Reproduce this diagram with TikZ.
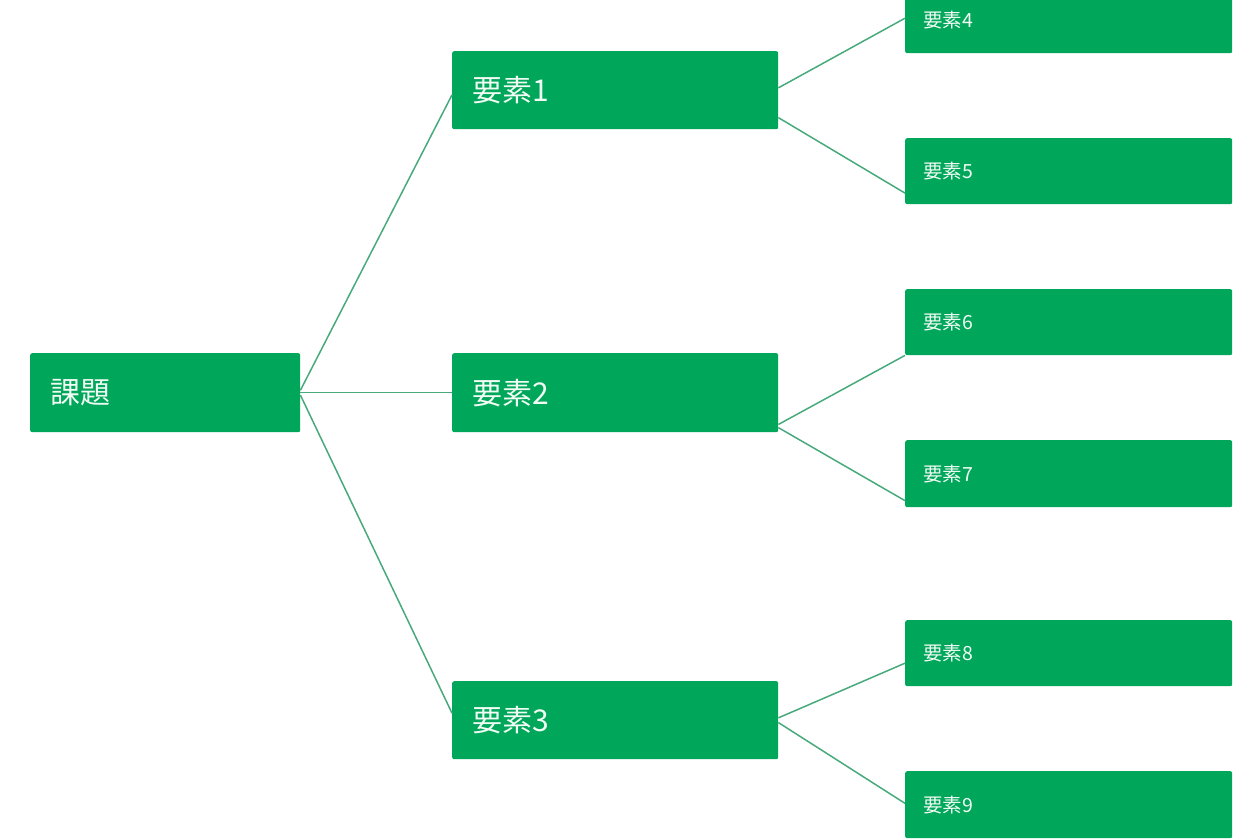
\documentclass[tikz,border=0pt]{standalone}
\usepackage{fontspec}
\setmainfont{Noto Sans CJK JP}
\usetikzlibrary{calc}
\definecolor{boxgreen}{RGB}{0,166,90}
\definecolor{linkgreen}{RGB}{72,170,124}
\definecolor{txt}{RGB}{240,252,244}
\tikzset{
  x=1pt, y=-1pt,
  bigbox/.style={anchor=north west, fill=boxgreen, rounded corners=2pt, draw=none,
    inner xsep=20pt, inner ysep=0pt, align=left, text=txt,
    font=\fontsize{30}{34}\selectfont},
  smallbox/.style={anchor=north west, fill=boxgreen, rounded corners=2pt, draw=none,
    inner xsep=18pt, inner ysep=0pt, align=left, text=txt,
    minimum width=327pt, text width=291pt,
    font=\fontsize{19.5}{22}\selectfont},
  link/.style={draw=linkgreen, line width=1.5pt},
}
\begin{document}
\begin{tikzpicture}
\useasboundingbox (0,0) rectangle (1260,840);
\clip (0,0) rectangle (1260,840);
\fill[white] (0,0) rectangle (1260,840);

\node[bigbox, minimum width=270pt, text width=230pt, minimum height=79pt] (k) at (30,353) {課題};
\node[bigbox, minimum width=326pt, text width=286pt, minimum height=78pt] (e1) at (452,51) {要素1};
\node[bigbox, minimum width=326pt, text width=286pt, minimum height=79pt] (e2) at (452,353) {要素2};
\node[bigbox, minimum width=326pt, text width=286pt, minimum height=78pt] (e3) at (452,681) {要素3};

\node[smallbox, minimum height=66pt] (e4) at (905,-13) {要素4};
\node[smallbox, minimum height=66pt] (e5) at (905,138) {要素5};
\node[smallbox, minimum height=66pt] (e6) at (905,289) {要素6};
\node[smallbox, minimum height=67pt] (e7) at (905,440) {要素7};
\node[smallbox, minimum height=66pt] (e8) at (905,620) {要素8};
\node[smallbox, minimum height=67pt] (e9) at (905,771) {要素9};

\draw[link] ($(k.north east)!0.47!(k.south east)$) -- ($(e1.north west)!0.56!(e1.south west)$);
\draw[link] (k.east) -- (e2.west);
\draw[link] ($(k.north east)!0.53!(k.south east)$) -- ($(e3.north west)!0.41!(e3.south west)$);

\draw[link] ($(e1.north east)!0.47!(e1.south east)$) -- ($(e4.north west)!0.47!(e4.south west)$);
\draw[link] ($(e1.north east)!0.85!(e1.south east)$) -- ($(e5.north west)!0.83!(e5.south west)$);

\draw[link] ($(e2.north east)!0.90!(e2.south east)$) -- (e6.south west);
\draw[link] ($(e2.north east)!0.94!(e2.south east)$) -- ($(e7.north west)!0.90!(e7.south west)$);

\draw[link] ($(e3.north east)!0.47!(e3.south east)$) -- ($(e8.north west)!0.65!(e8.south west)$);
\draw[link] ($(e3.north east)!0.53!(e3.south east)$) -- ($(e9.north west)!0.48!(e9.south west)$);
\end{tikzpicture}
\end{document}
